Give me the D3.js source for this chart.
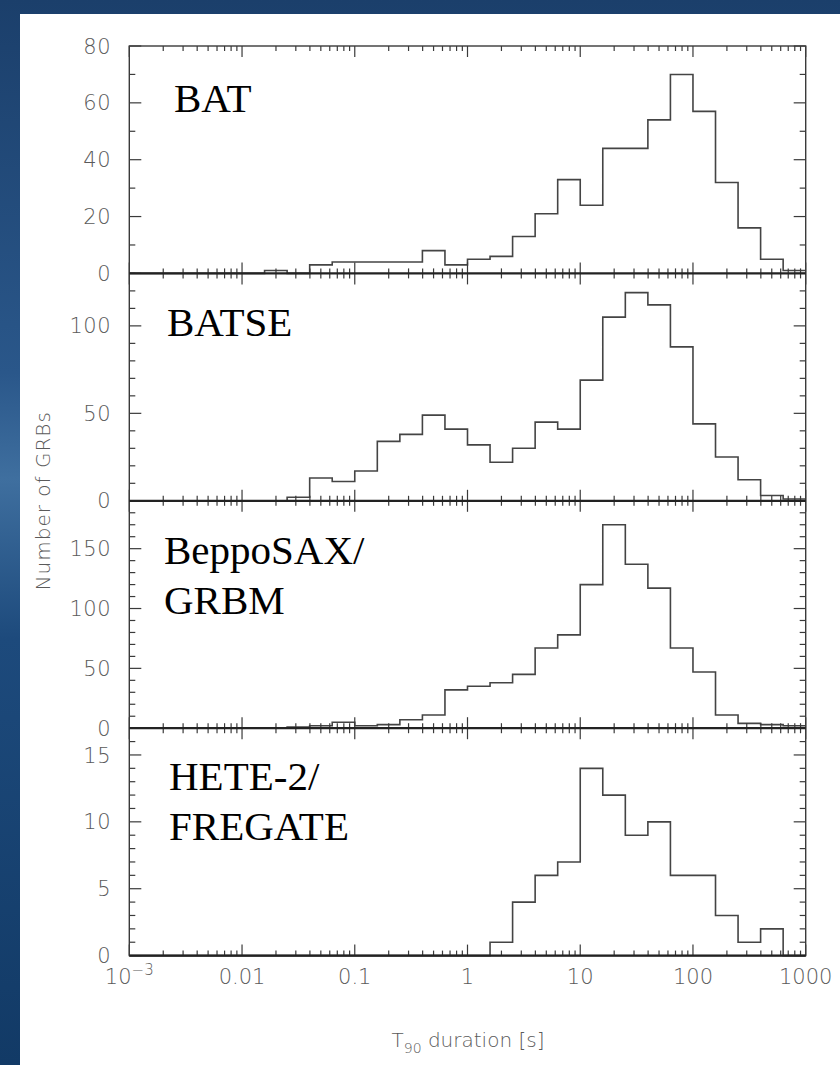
<!DOCTYPE html>
<html>
<head>
<meta charset="utf-8">
<script src="https://cdn.jsdelivr.net/npm/d3@7"></script>
<style>
  html, body { margin: 0; padding: 0; background: #fff; }
  svg { display: block; }
</style>
</head>
<body>
<script>
    // log10 of bin edges (0.2 dex bins from 1 ms to 1000 s)
    const binEdgesLog = [-3, -2.8, -2.6, -2.4, -2.2, -2, -1.8, -1.6, -1.4, -1.2, -1,
        -0.8, -0.6, -0.4, -0.2, 0, 0.2, 0.4, 0.6, 0.8, 1, 1.2, 1.4, 1.6, 1.8, 2,
        2.2, 2.4, 2.6, 2.8, 3];

    const panelNames = [['BAT'], ['BATSE'], ['BeppoSAX/', 'GRBM'], ['HETE-2/', 'FREGATE']];

    const batCounts = [0, 0, 0, 0, 0, 0, 1, 0, 3, 4, 4, 4, 4, 8, 3, 5, 6, 13, 21, 33, 24, 44, 44, 54, 70, 57, 32, 16, 5, 1];
    const batseCounts = [0, 0, 0, 0, 0, 0, 0, 2, 13, 11, 17, 34, 38, 49, 41, 32, 22, 30, 45, 41, 69, 105, 119, 112, 88, 44, 25, 12, 3, 1];
    const saxCounts = [0, 0, 0, 0, 0, 0, 0, 1, 2, 5, 2, 3, 7, 11, 32, 35, 38, 45, 67, 78, 120, 170, 137, 117, 67, 47, 11, 4, 3, 2];
    const heteCounts = [0, 0, 0, 0, 0, 0, 0, 0, 0, 0, 0, 0, 0, 0, 0, 0, 1, 4, 6, 7, 14, 12, 9, 10, 6, 6, 3, 1, 2, 0];

    const yMax = [80, 130, 190, 17];
    const yMajorTicks = [[0, 20, 40, 60, 80], [0, 50, 100], [0, 50, 100, 150], [0, 5, 10, 15]];
    const yMinorStep = [10, 10, 10, 1];

    const xTickValues = [0.001, 0.01, 0.1, 1, 10, 100, 1000];
    const xTickLabels = ['10', '0.01', '0.1', '1', '10', '100', '1000'];

    const m = {
        width: 840,
        height: 1065,
        left: 129.3,
        right: 805.7,
        top: 46,
        panelH: 227.4
    };

    const svg = d3.select('body')
        .append('svg')
        .attr('width', m.width)
        .attr('height', m.height);

    // slide background
    let defs = svg.append('defs');
    let grad = defs.append('linearGradient')
        .attr('id', 'bg')
        .attr('x1', 0).attr('y1', 0).attr('x2', 0).attr('y2', 1);
    grad.append('stop').attr('offset', '0%').attr('stop-color', '#1b3f6b');
    grad.append('stop').attr('offset', '35%').attr('stop-color', '#2a578a');
    grad.append('stop').attr('offset', '45%').attr('stop-color', '#3f6f9f');
    grad.append('stop').attr('offset', '60%').attr('stop-color', '#1d4a7c');
    grad.append('stop').attr('offset', '100%').attr('stop-color', '#123a66');

    svg.append('rect')
        .attr('width', m.width).attr('height', m.height)
        .attr('fill', 'url(#bg)');
    svg.append('rect')
        .attr('x', 20).attr('y', 14)
        .attr('width', m.width - 20).attr('height', m.height - 14)
        .attr('fill', '#fff');

    const x = d3.scaleLog()
        .domain([1e-3, 1e3])
        .range([m.left, m.right]);

    const allCounts = [batCounts, batseCounts, saxCounts, heteCounts];
    const labelOffsets = [[174, 112], [167, 336], [164, 564], [169, 790]];

    const lineColor = '#3a3a3a';
    const textColor = '#5a5a5a';

    allCounts.forEach(function(counts, p) {
        let y0 = m.top + p * m.panelH;
        let y1 = y0 + m.panelH;
        let y = d3.scaleLinear()
            .domain([0, yMax[p]])
            .range([y1, y0]);

        let g = svg.append('g');

        // histogram
        let pts = counts.map((c, i) => [Math.pow(10, binEdgesLog[i]), c]);
        pts.push([Math.pow(10, binEdgesLog[binEdgesLog.length - 1]), counts[counts.length - 1]]);
        let line = d3.line()
            .x(d => x(d[0]))
            .y(d => y(d[1]))
            .curve(d3.curveStepAfter);
        g.append('path')
            .attr('d', line(pts))
            .attr('fill', 'none')
            .attr('stroke', '#444')
            .attr('stroke-width', 1.6);

        // y ticks, both sides
        let minors = d3.range(0, yMax[p] + 0.001, yMinorStep[p]);
        minors.forEach(function(v) {
            let major = yMajorTicks[p].indexOf(v) >= 0;
            let len = major ? 12 : 6;
            g.append('line')
                .attr('x1', m.left).attr('x2', m.left + len)
                .attr('y1', y(v)).attr('y2', y(v))
                .attr('stroke', lineColor).attr('stroke-width', 1.2);
            g.append('line')
                .attr('x1', m.right).attr('x2', m.right - len)
                .attr('y1', y(v)).attr('y2', y(v))
                .attr('stroke', lineColor).attr('stroke-width', 1.2);
        });

        // y labels
        g.selectAll('text.ylab')
            .data(yMajorTicks[p])
            .enter()
            .append('text')
            .attr('x', 111)
            .attr('y', d => y(d))
            .attr('dy', '0.36em')
            .attr('text-anchor', 'end')
            .attr('font-family', 'DejaVu Sans')
            .attr('font-weight', 200)
            .attr('font-size', 21)
            .attr('letter-spacing', 0.5)
            .attr('fill', textColor)
            .text(d => d);

        // panel name
        let nm = g.append('text')
            .attr('font-family', 'Liberation Serif, Times New Roman, serif')
            .attr('font-size', 41)
            .attr('fill', '#000');
        panelNames[p].forEach(function(s, j) {
            nm.append('tspan')
                .attr('x', labelOffsets[p][0])
                .attr('y', labelOffsets[p][1] + j * 50)
                .text(s);
        });
    });

    // x ticks on every horizontal line
    let xTicks = x.ticks();
    for (let b = 0; b <= 4; b++) {
        let yy = m.top + b * m.panelH;
        xTicks.forEach(function(v) {
            let major = xTickValues.indexOf(v) >= 0;
            let len = major ? 11 : 5;
            let up = (b > 0) ? len : 0;
            let down = (b < 4) ? len : 0;
            svg.append('line')
                .attr('x1', x(v)).attr('x2', x(v))
                .attr('y1', yy - up).attr('y2', yy + down)
                .attr('stroke', lineColor).attr('stroke-width', 1.2);
        });
    }

    // frame and dividers
    svg.append('rect')
        .attr('x', m.left).attr('y', m.top)
        .attr('width', m.right - m.left).attr('height', 4 * m.panelH)
        .attr('fill', 'none')
        .attr('stroke', lineColor)
        .attr('stroke-width', 1.4);
    for (let b = 1; b <= 4; b++) {
        let yy = m.top + b * m.panelH;
        svg.append('line')
            .attr('x1', m.left).attr('x2', m.right)
            .attr('y1', yy).attr('y2', yy)
            .attr('stroke', '#222')
            .attr('stroke-width', 2.2);
    }

    // x tick labels
    let xl = svg.append('g');
    xTickValues.forEach(function(v, i) {
        let t = xl.append('text')
            .attr('x', x(v))
            .attr('y', 984)
            .attr('text-anchor', 'middle')
            .attr('font-family', 'DejaVu Sans')
            .attr('font-weight', 200)
            .attr('font-size', 21)
            .attr('fill', textColor);
        t.append('tspan').text(xTickLabels[i]);
        if (i === 0) {
            t.append('tspan')
                .attr('dy', -9)
                .attr('font-size', 15)
                .text('\u22123');
        }
    });

    // axis titles
    let xt = svg.append('text')
        .attr('x', 468)
        .attr('y', 1047)
        .attr('text-anchor', 'middle')
        .attr('font-family', 'DejaVu Sans')
        .attr('font-weight', 200)
        .attr('font-size', 20)
        .attr('fill', textColor);
    xt.append('tspan').text('T');
    xt.append('tspan').attr('dy', 6).attr('font-size', 14).text('90');
    xt.append('tspan').attr('dy', -6).text(' duration [s]');

    svg.append('text')
        .attr('transform', 'translate(50,' + (m.top + 2 * m.panelH) + ') rotate(-90)')
        .attr('text-anchor', 'middle')
        .attr('font-family', 'DejaVu Sans')
        .attr('font-weight', 200)
        .attr('font-size', 20)
        .attr('letter-spacing', 1)
        .attr('fill', textColor)
        .text('Number of GRBs');
</script>
</body>
</html>
